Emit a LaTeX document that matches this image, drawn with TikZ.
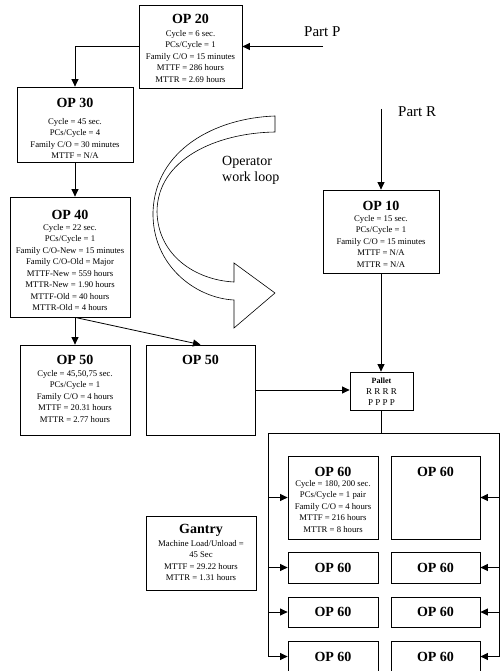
\documentclass[tikz,border=0pt]{standalone}
\usepackage{fontspec}
\setmainfont{Liberation Serif}
\usetikzlibrary{arrows.meta,fit}
\begin{document}
\begin{tikzpicture}[x=1pt,y=-1pt,
  box/.style={draw, line width=0.8pt, inner sep=0pt},
  ttl/.style={font=\fontsize{14}{14}\selectfont\bfseries, inner sep=0pt, anchor=base},
  bdy/.style={font=\fontsize{8.7}{11.5}\selectfont, align=center, inner sep=0pt, anchor=north},
  lbl/.style={font=\fontsize{15}{18}\selectfont, inner sep=0pt, anchor=base west},
  arr/.style={-{Triangle[length=7.5pt,width=7pt]}, line width=0.8pt},
  ln/.style={line width=0.8pt},
  frm/.style={line width=1pt}]
\useasboundingbox (0,0) rectangle (500,671);
\clip (0,0) rectangle (500,671);

% ---------- boxes ----------
\node[box, fit={(139,5)(242,88)}] (op20) {};
\node[ttl] (op20t) at (190.5,23.7) {OP 20};
\node[bdy] (op20b) at (190.5,30) {Cycle = 6 sec.\\PCs/Cycle = 1\\Family C/O = 15 minutes\\MTTF = 286 hours\\MTTR = 2.69 hours};

\node[box, fit={(17,87)(133,162)}] (op30) {};
\node[ttl] (op30t) at (75,107.7) {OP 30};
\node[bdy] (op30b) at (75,118) {Cycle = 45 sec.\\PCs/Cycle = 4\\Family C/O = 30 minutes\\MTTF = N/A};

\node[box, fit={(10,197)(130,317)}] (op40) {};
\node[ttl] (op40t) at (70,219.7) {OP 40};
\node[bdy] (op40b) at (70,224) {Cycle = 22 sec.\\PCs/Cycle = 1\\Family C/O-New = 15 minutes\\Family C/O-Old = Major\\MTTF-New = 559 hours\\MTTR-New = 1.90 hours\\MTTF-Old = 40 hours\\MTTR-Old = 4 hours};

\node[box, fit={(323,190)(439,273)}] (op10) {};
\node[ttl] (op10t) at (381,210.7) {OP 10};
\node[bdy] (op10b) at (381,215) {Cycle = 15 sec.\\PCs/Cycle = 1\\Family C/O = 15 minutes\\MTTF = N/A\\MTTR = N/A};

\node[box, fit={(20,345)(130,435)}] (op50) {};
\node[ttl] (op50t) at (75,364.7) {OP 50};
\node[bdy] (op50bd) at (75,370) {Cycle = 45,50,75 sec.\\PCs/Cycle = 1\\Family C/O = 4 hours\\MTTF = 20.31 hours\\MTTR = 2.77 hours};

\node[box, fit={(146,345)(255,435)}] (op50b) {};
\node[ttl] (op50bt) at (200.5,364.7) {OP 50};

\node[box, fit={(350,372)(413,410)}] (pallet) {};
\node[bdy, font=\fontsize{9}{11}\selectfont] (palletb) at (381.5,378) {{\fontsize{8}{11}\selectfont\bfseries Pallet}\\R R R R\\P P P P};

\node[box, fit={(146,516)(256,590)}] (gantry) {};
\node[ttl] (gantryt) at (201,533.7) {Gantry};
\node[bdy] (gantryb) at (201,540) {Machine Load/Unload =\\45 Sec\\MTTF = 29.22 hours\\MTTR = 1.31 hours};

\node[box, fit={(288,456)(378,539)}] (r1a) {};
\node[ttl] (r1at) at (333,476.5) {OP 60};
\node[bdy] (r1ab) at (333,480) {Cycle = 180, 200 sec.\\PCs/Cycle = 1 pair\\Family C/O = 4 hours\\MTTF = 216 hours\\MTTR = 8 hours};
\node[box, fit={(391,456)(480,539)}] (r1b) {};
\node[ttl] (r1bt) at (435.5,476.5) {OP 60};

\node[box, fit={(288,552)(378,583)}] (r2a) {};
\node[ttl] (r2at) at (333,572.2) {OP 60};
\node[box, fit={(391,552)(480,583)}] (r2b) {};
\node[ttl] (r2bt) at (435.5,572.2) {OP 60};

\node[box, fit={(288,597)(378,627)}] (r3a) {};
\node[ttl] (r3at) at (333,616.7) {OP 60};
\node[box, fit={(391,597)(480,627)}] (r3b) {};
\node[ttl] (r3bt) at (435.5,616.7) {OP 60};

\node[box, fit={(288,641)(378,672)}] (r4a) {};
\node[ttl] (r4at) at (333,661.2) {OP 60};
\node[box, fit={(391,641)(480,672)}] (r4b) {};
\node[ttl] (r4bt) at (435.5,661.2) {OP 60};

% ---------- labels ----------
\node[lbl] (partP) at (304,36.5) {Part P};
\node[lbl] (partR) at (398,117) {Part R};
\node[font=\fontsize{14}{16}\selectfont, align=left, inner sep=0pt, anchor=north west] (oploop) at (222,156) {Operator\\work loop};

% ---------- curved arrow ----------
\draw[line width=0.6pt, line join=miter]
  (275,116) .. controls (215,118) and (155,150) .. (153,212)
  .. controls (152,265) and (195,298) .. (234,300)
  -- (234,328) -- (275,293) -- (234,263) -- (234,282)
  .. controls (195,280) and (158,255) .. (157,212)
  .. controls (157,160) and (215,133) .. (275,132) -- cycle;

% ---------- connectors ----------
\coordinate (pp) at (323,46.5);
\draw[arr] (pp) -- (op20.east);
\draw[arr] (op20.west) -| (op30.north);
\draw[arr] (op30.south) -- (op30.south |- op40.north);
\draw[arr] (op50.north |- op40.south) -- (op50.north);
\draw[arr] (op50.north |- op40.south) -- (op50b.north);
\draw[arr] (op50b.east) -- (op50b.east -| pallet.west);

\coordinate (pr) at (381,109);
\draw[arr] (pr) -- (op10.north);
\draw[arr] (op10.south) -- (op10.south |- pallet.north);

\coordinate (fl) at (268,433);
\coordinate (fr) at (499,433);
\draw[frm] (pallet.south) -- (pallet.south |- fl);
\draw[frm] (fl |- r4a.west) -- (fl) -- (fr) -- (fr |- r4b.east);

\draw[arr] (fl |- r1a.west) -- (r1a.west);
\draw[arr] (fl |- r2a.west) -- (r2a.west);
\draw[arr] (fl |- r3a.west) -- (r3a.west);
\draw[arr] (fl |- r4a.west) -- (r4a.west);
\draw[arr] (fr |- r1b.east) -- (r1b.east);
\draw[arr] (fr |- r2b.east) -- (r2b.east);
\draw[arr] (fr |- r3b.east) -- (r3b.east);
\draw[arr] (fr |- r4b.east) -- (r4b.east);
\end{tikzpicture}
\end{document}
